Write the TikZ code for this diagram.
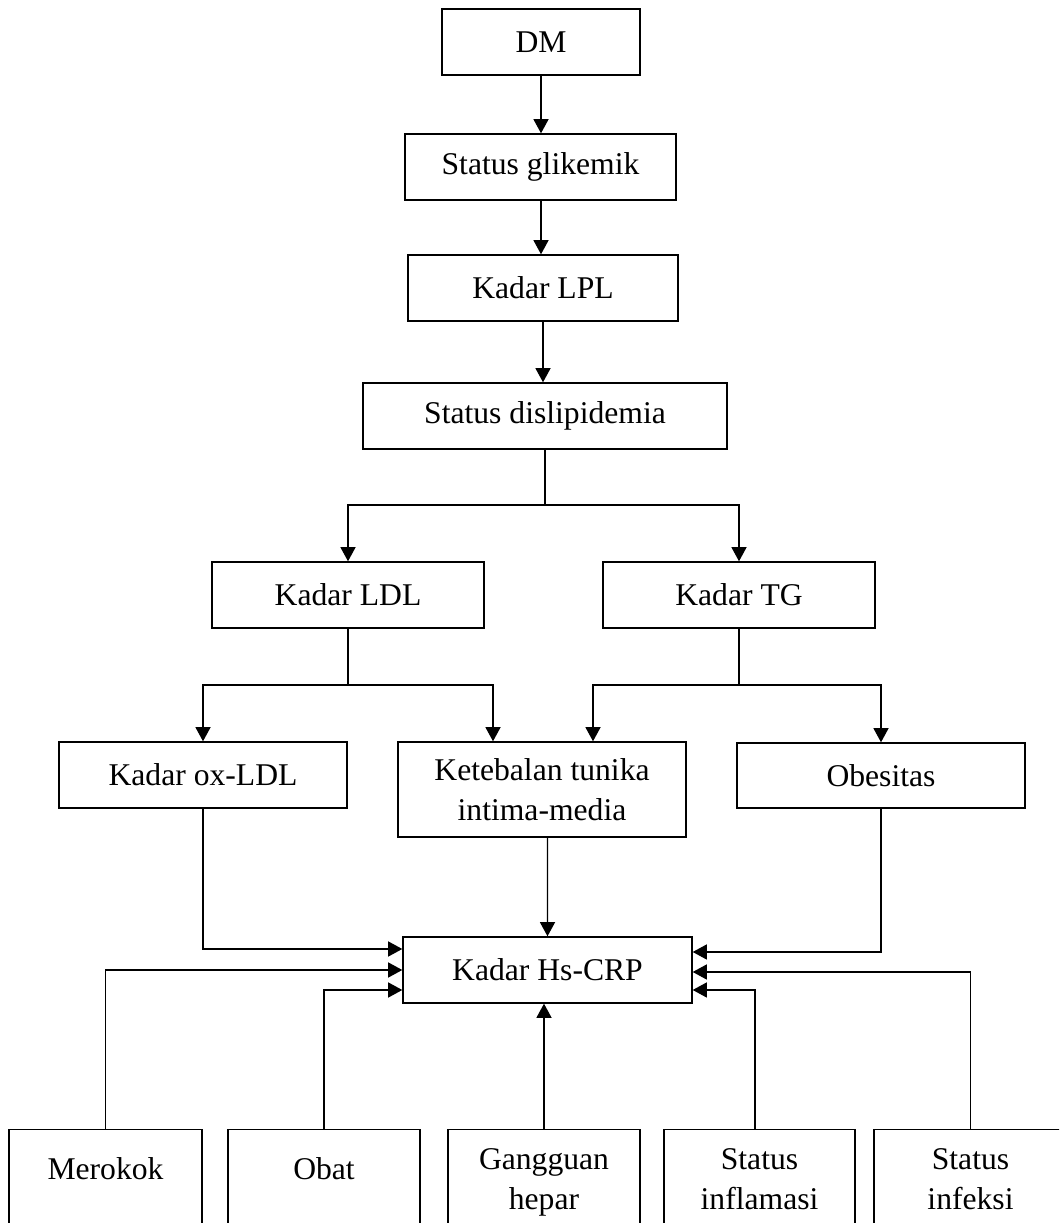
\documentclass[tikz,border=0pt]{standalone}
\usepackage{fontspec}
\setmainfont{Liberation Serif}
\usetikzlibrary{arrows.meta}

\begin{document}
\begin{tikzpicture}[
  varbox/.style    = {draw, line width=0.8pt, inner sep=0pt, align=center,
                      font=\fontsize{18}{22.8}\selectfont,
                      minimum height=13.2mm},
  botbox/.style    = {varbox, anchor=north, text depth=20mm},  % runs off the page
  link/.style      = {line width=0.8pt},
  arrow/.style     = {line width=0.8pt, -{Triangle[length=8pt,width=8.5pt]}},
]
  \useasboundingbox (0,0) rectangle (21.18,24.46);
  \clip (0,0) rectangle (21.18,24.46);

  \node[varbox, minimum width=39.6mm] (dm)   at (10.82,23.62) {DM};
  \node[varbox, minimum width=54.2mm] (glik) at (10.81,21.12) {Status glikemik};
  \node[varbox, minimum width=54.0mm] (lpl)  at (10.86,18.70) {Kadar LPL};
  \node[varbox, minimum width=72.8mm] (disl) at (10.90,16.14) {Status dislipidemia};

  \node[varbox, minimum width=54.4mm] (ldl) at (6.96,12.56)  {Kadar LDL};
  \node[varbox, minimum width=54.4mm] (tg)  at (14.78,12.56) {Kadar TG};

  \node[varbox, minimum width=57.6mm] (oxldl) at (4.06,8.96) {Kadar ox-LDL};
  \node[varbox, minimum width=57.6mm, minimum height=19mm] (ket) at (10.84,8.67)
       {Ketebalan tunika\\intima-media};
  \node[varbox, minimum width=57.6mm, minimum height=13mm] (obes) at (17.62,8.95) {Obesitas};

  \node[varbox, minimum width=57.8mm] (crp) at (10.95,5.06) {Kadar Hs-CRP};

  \node[botbox, minimum width=38.6mm, text height=10mm] (rokok) at (2.11,1.88)  {Merokok};
  \node[botbox, minimum width=38.4mm, text height=10mm] (obat)  at (6.48,1.88)  {Obat};
  \node[botbox, minimum width=38.4mm, text height=16mm] (hepar) at (10.88,1.88) {Gangguan\\hepar};
  \node[botbox, minimum width=38.2mm, text height=16mm] (infl)  at (15.19,1.88) {Status\\inflamasi};
  \node[botbox, minimum width=38.6mm, text height=16mm] (infk)  at (19.41,1.88) {Status\\infeksi};

  \coordinate (dsplit) at (10.90,14.36);
  \coordinate (lsplit) at (6.96,10.76);
  \coordinate (tsplit) at (14.78,10.76);

  \draw[arrow] (dm.south) -- (dm.south |- glik.north);
  \draw[arrow] (dm.south |- glik.south) -- (dm.south |- lpl.north);
  \draw[arrow] (lpl.south) -- (lpl.south |- disl.north);

  \draw[link]  (disl) -- (dsplit);
  \draw[arrow] (dsplit) -| (ldl.north);
  \draw[arrow] (dsplit) -| (tg.north);

  \draw[link]  (ldl) -- (lsplit);
  \draw[arrow] (lsplit) -| (oxldl.north);
  \draw[arrow] (lsplit) -| ([xshift=-0.98cm]ket.north);
  \draw[link]  (tg) -- (tsplit);
  \draw[arrow] (tsplit) -| ([xshift=1.02cm]ket.north);
  \draw[arrow] (tsplit) -| (obes.north);

  \draw[arrow] (oxldl.south) |- ([yshift=0.42cm]crp.west);
  \draw[arrow] ([xshift=0.11cm]ket.south) -- (crp.north);
  \draw[arrow] (obes.south) |- ([yshift=0.36cm]crp.east);

  \draw[arrow] (rokok.north) |- (crp.west);
  \draw[arrow] (obat.north) |- ([yshift=-0.40cm]crp.west);
  \draw[arrow] (hepar.north) -- (hepar.north |- crp.south);
  \draw[arrow] ([xshift=-0.09cm]infl.north) |- ([yshift=-0.40cm]crp.east);
  \draw[arrow] (infk.north) |- ([yshift=-0.04cm]crp.east);
\end{tikzpicture}
\end{document}
